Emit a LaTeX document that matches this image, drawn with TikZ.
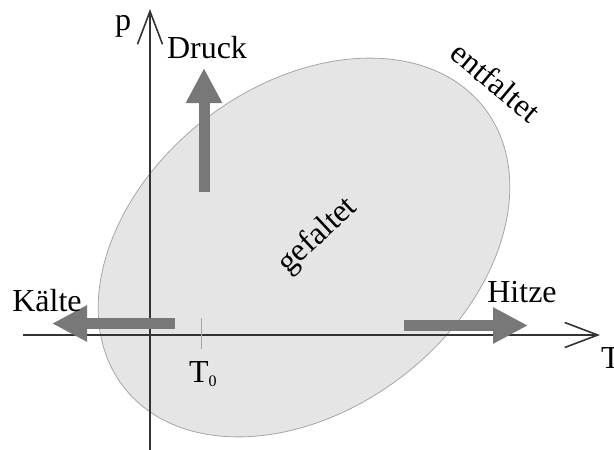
\documentclass[tikz,border=0pt]{standalone}
\usepackage{fontspec}
\setmainfont{Liberation Serif}
\usetikzlibrary{arrows.meta}
\begin{document}
\begin{tikzpicture}[x=1pt,y=-1pt,
  axisline/.style={draw=black!80,line width=1.6pt,-{Straight Barb[length=33pt,width=25pt,line width=1.6pt]}},
  fatarrow/.style={draw=black!53,line width=11pt,-{Triangle[length=35pt,width=34pt]}},
  lbl/.style={font=\fontsize{32}{38}\selectfont,inner sep=0pt},
  region/.style={fill=black!10,draw=black!35,line width=0.8pt}]
\useasboundingbox (0,0) rectangle (614,450);
% region
\coordinate (c) at (304,247.5);
\draw[region,rotate around={37.7:(c)}] (c) ellipse [x radius=228pt, y radius=162pt];
% axes
\coordinate (yb) at (150,450);
\coordinate (yt) at (150,9);
\coordinate (xl) at (23,335);
\coordinate (xr) at (600,335);
\draw[axisline] (yb) -- (yt);
\draw[axisline] (xl) -- (xr);
% tick T0
\coordinate (t0a) at (201,318);
\coordinate (t0b) at (201,349);
\draw[black!35,line width=1pt] (t0a) -- (t0b);
% fat arrows
\coordinate (dr0) at (204,192);
\coordinate (dr1) at (204,68);
\coordinate (ka0) at (175,323.5);
\coordinate (ka1) at (52,323.5);
\coordinate (hi0) at (404,325.5);
\coordinate (hi1) at (528,325.5);
\draw[fatarrow] (dr0) -- (dr1);
\draw[fatarrow] (ka0) -- (ka1);
\draw[fatarrow] (hi0) -- (hi1);
% labels
\node[lbl,anchor=base] (p) at (123,30) {p};
\node[lbl,anchor=base west] (T) at (601,368) {T};
\node[lbl,anchor=base] (druck) at (207,58) {Druck};
\node[lbl,anchor=base] (kalte) at (47,311) {Kälte};
\node[lbl,anchor=base] (hitze) at (522,302) {Hitze};
\node[lbl,anchor=base west] (tnull) at (189,382) {T\raisebox{-4pt}{\fontsize{16}{19}\selectfont 0}};
\node[lbl,rotate=43] (gef) at (318,236) {gefaltet};
\node[lbl,rotate=-40] (ent) at (496,82) {entfaltet};
\end{tikzpicture}
\end{document}
